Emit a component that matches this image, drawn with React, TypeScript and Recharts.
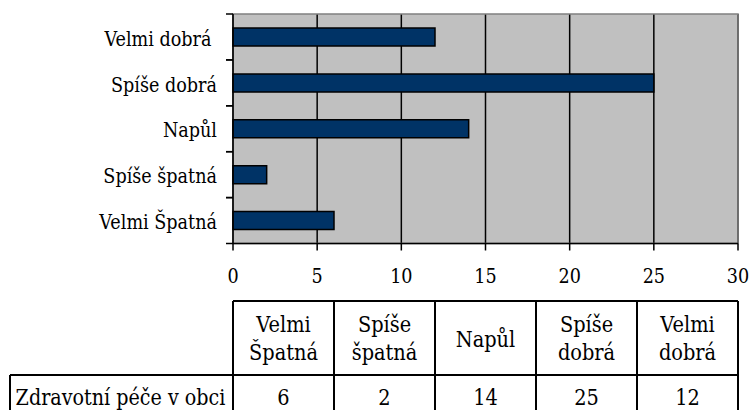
import React from 'react';
import { BarChart, Bar, XAxis, YAxis, CartesianGrid, ReferenceArea } from 'recharts';

// ---- data ----
const categories = ['Velmi Špatná', 'Spíše špatná', 'Napůl', 'Spíše dobrá', 'Velmi dobrá '];
const values = [6, 2, 14, 25, 12];
const xTicks = [0, 5, 10, 15, 20, 25, 30];
const seriesName = 'Zdravotní péče v obci';

const data = categories.map((c, i) => ({ category: c, value: values[i] }));

// ---- layout ----
const W = 749;
const H = 410;
const PLOT_LEFT = 233;
const PLOT_RIGHT = 738;
const PLOT_TOP = 14;
const PLOT_BOTTOM = 243.5;
const Y_AXIS_W = 223;
const X_AXIS_H = 40;
const BAND = (PLOT_BOTTOM - PLOT_TOP) / categories.length;
const FONT = "'DejaVu Serif', serif";
const AXIS_FONT_SIZE = 20;
const AXIS_SX = 0.88;
const TABLE_FONT_SIZE = 21.5;
const TABLE_SX = 0.9;

const TABLE_TOP = 301;
const TABLE_ROW = 375;
const TABLE_BOTTOM = 430;
const ROW_HEAD_LEFT = 10;

const SText = (props: { x: number; y: number; anchor: 'start' | 'middle' | 'end'; size: number; sx: number; children: React.ReactNode }) => (
  <text
    transform={`translate(${props.x} ${props.y}) scale(${props.sx} 1)`}
    x={0}
    y={0}
    textAnchor={props.anchor}
    fill="#000"
    style={{ fontFamily: FONT, fontSize: props.size, whiteSpace: 'pre' }}
  >
    {props.children}
  </text>
);

const CategoryTick = (props: any) => {
  const { x, y, payload } = props;
  return (
    <g>
      <line x1={PLOT_LEFT - 7} x2={PLOT_LEFT} y1={y - BAND / 2} y2={y - BAND / 2} stroke="#000" strokeWidth={1.5} />
      <line x1={PLOT_LEFT - 7} x2={PLOT_LEFT} y1={y + BAND / 2} y2={y + BAND / 2} stroke="#000" strokeWidth={1.5} />
      <SText x={x} y={y + 8.7} anchor="end" size={AXIS_FONT_SIZE} sx={AXIS_SX}>
        {payload.value}
      </SText>
    </g>
  );
};

const ValueTick = (props: any) => {
  const { x, y, payload } = props;
  return (
    <SText x={x} y={y + 18.5} anchor="middle" size={AXIS_FONT_SIZE} sx={AXIS_SX}>
      {payload.value}
    </SText>
  );
};

const DataTable = () => {
  const colW = (PLOT_RIGHT - PLOT_LEFT) / categories.length;
  const lines: React.ReactNode[] = [];
  lines.push(<line key="ht" x1={PLOT_LEFT} x2={PLOT_RIGHT} y1={TABLE_TOP} y2={TABLE_TOP} />);
  lines.push(<line key="rs" x1={ROW_HEAD_LEFT} x2={PLOT_RIGHT} y1={TABLE_ROW} y2={TABLE_ROW} />);
  lines.push(<line key="rl" x1={ROW_HEAD_LEFT} x2={ROW_HEAD_LEFT} y1={TABLE_ROW} y2={TABLE_BOTTOM} />);
  for (let i = 0; i <= categories.length; i++) {
    const x = PLOT_LEFT + i * colW;
    lines.push(<line key={'v' + i} x1={x} x2={x} y1={TABLE_TOP} y2={TABLE_BOTTOM} />);
  }
  const texts: React.ReactNode[] = [];
  categories.forEach((c, i) => {
    const cx = PLOT_LEFT + (i + 0.5) * colW;
    const parts = c.trim().split(' ');
    if (parts.length === 1) {
      texts.push(
        <SText key={'h' + i} x={cx} y={347} anchor="middle" size={TABLE_FONT_SIZE} sx={TABLE_SX}>{parts[0]}</SText>
      );
    } else {
      texts.push(
        <SText key={'h' + i + 'a'} x={cx} y={332} anchor="middle" size={TABLE_FONT_SIZE} sx={TABLE_SX}>{parts[0]}</SText>,
        <SText key={'h' + i + 'b'} x={cx} y={360} anchor="middle" size={TABLE_FONT_SIZE} sx={TABLE_SX}>{parts.slice(1).join(' ')}</SText>
      );
    }
    texts.push(
      <SText key={'d' + i} x={cx} y={405} anchor="middle" size={TABLE_FONT_SIZE} sx={TABLE_SX}>{values[i]}</SText>
    );
  });
  texts.push(
    <SText key="rh" x={(ROW_HEAD_LEFT + PLOT_LEFT) / 2 - 1} y={405} anchor="middle" size={TABLE_FONT_SIZE} sx={0.89}>{seriesName}</SText>
  );
  return (
    <svg
      width={W}
      height={H}
      style={{ position: 'absolute', left: 0, top: 0, pointerEvents: 'none' }}
    >
      <g stroke="#000" strokeWidth={2}>{lines}</g>
      <g>{texts}</g>
    </svg>
  );
};

export default function App() {
  return (
    <div style={{ position: 'absolute', left: 0, top: 0, width: W, height: H, background: '#fff' }}>
      <BarChart
        width={W}
        height={H}
        data={data}
        layout="vertical"
        margin={{
          top: PLOT_TOP,
          right: W - PLOT_RIGHT,
          bottom: H - PLOT_BOTTOM - X_AXIS_H,
          left: PLOT_LEFT - Y_AXIS_W,
        }}
      >
        <CartesianGrid
          horizontal={false}
          vertical={true}
          stroke="#000"
          strokeWidth={1.5}
          fill="#C0C0C0"
          fillOpacity={1}
        />
        <ReferenceArea x1={0} x2={30} fill="none" stroke="#808080" strokeWidth={1.5} ifOverflow="visible" />
        <Bar
          dataKey="value"
          fill="#003366"
          stroke="#000"
          strokeWidth={1.5}
          barSize={18}
          isAnimationActive={false}
        />
        <XAxis
          type="number"
          domain={[0, 30]}
          ticks={xTicks}
          interval={0}
          height={X_AXIS_H}
          axisLine={{ stroke: '#000', strokeWidth: 1.5 }}
          tickLine={{ stroke: '#000', strokeWidth: 1.5 }}
          tickSize={7}
          tickMargin={14}
          tick={<ValueTick />}
        />
        <YAxis
          type="category"
          dataKey="category"
          reversed
          width={Y_AXIS_W}
          axisLine={{ stroke: '#000', strokeWidth: 1.5 }}
          tickLine={false}
          tickSize={7}
          tickMargin={9}
          interval={0}
          tick={<CategoryTick />}
        />
      </BarChart>
      <DataTable />
    </div>
  );
}
